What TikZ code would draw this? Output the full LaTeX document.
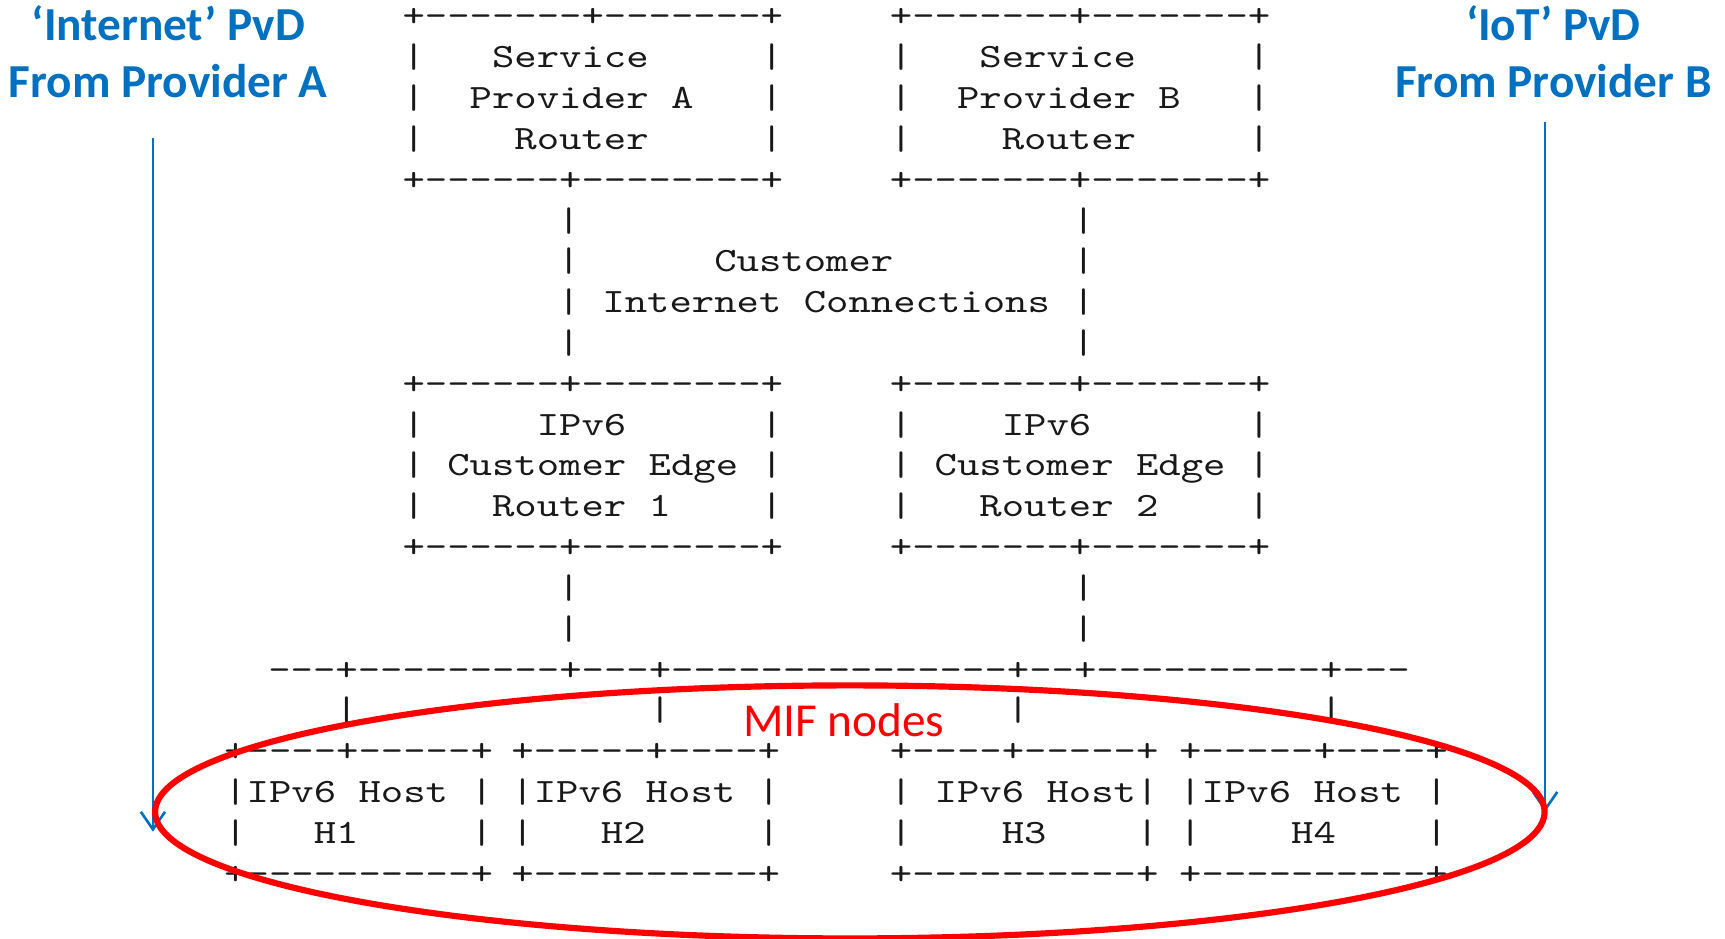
\documentclass[tikz,border=0pt]{standalone}
\usepackage{fontspec}
\newfontfamily\asciifont[FakeStretch=1.25]{lmmono10-regular.otf}
\newfontfamily\calibri{Carlito}
\usetikzlibrary{arrows.meta,shapes.geometric}
\definecolor{pvdblue}{HTML}{0070C0}
\definecolor{mifred}{HTML}{FF0000}
% n blank character cells
\newcommand{\bk}[1]{\hspace*{#1\fontcharwd\font`x}}
% ascii block: name, x, baseline of first row, rows
\newcommand{\asc}[4]{\node[ascii] (#1) at (#2,#3) {\begin{tabular}[t]{@{}l@{}}#4\end{tabular}};}
\tikzset{
  ascii/.style={anchor=base west, inner sep=0pt, text=black!90,
    font=\asciifont\fontsize{15.5pt}{18.55pt}\selectfont},
  pvd/.style={anchor=base, inner sep=0pt, text=pvdblue,
    font=\calibri\bfseries\fontsize{21.5pt}{26pt}\selectfont},
  pvdarrow/.style={draw=pvdblue, line width=1.2pt, -{Straight Barb[length=8pt,width=11pt]}},
  mifring/.style={ellipse, draw=mifred, line width=2.8pt, inner sep=0pt,
    minimum width=631.5pt, minimum height=115pt},
  miflabel/.style={anchor=base, inner sep=0pt, text=mifred,
    font=\calibri\fontsize{21.5pt}{26pt}\selectfont}
}

\begin{document}
\begin{tikzpicture}[x=0.5pt,y=-0.5pt]
  \useasboundingbox (0,0) rectangle (1568,853);
  % provider routers
  \asc{spA}{365.5}{24.5}{+-------+-------+\\|\bk3Service\bk5|\\|\bk2Provider\bk1A\bk3|\\|\bk4Router\bk5|\\+------+--------+}
  \asc{spB}{808.5}{24.5}{+-------+-------+\\|\bk3Service\bk5|\\|\bk2Provider\bk1B\bk3|\\|\bk4Router\bk5|\\+-------+-------+}
  % customer internet connections
  \asc{link}{506.5}{210.0}{|\bk{22}|\\|\bk6Customer\bk8|\\|\bk1Internet\bk1Connections\bk1|\\|\bk{22}|}
  % customer edge routers
  \asc{ceA}{365.5}{358.4}{+------+--------+\\|\bk5IPv6\bk6|\\|\bk1Customer\bk1Edge\bk1|\\|\bk3Router\bk{1}1\bk4|\\+------+--------+}
  \asc{ceB}{808.5}{358.4}{+-------+-------+\\|\bk4IPv6\bk7|\\|\bk1Customer\bk1Edge\bk1|\\|\bk3Router\bk{1}2\bk4|\\+-------+-------+}
  \asc{drop}{506.5}{543.9}{|\bk{22}|\\|\bk{22}|}
  % shared link and host taps
  \asc{bus}{243.5}{618.1}{---+---------+---+---------------+--+----------+---}
  \asc{taps}{243.5}{655.2}{\bk3|\bk{13}|\bk{15}|\bk{13}|}
  % hosts
  \asc{hA}{203.5}{692.3}{+----+-----+\\|IPv6\bk1Host\bk1|\\|\bk3H1\bk5|\\+----------+}
  \asc{hB}{464.5}{692.3}{+-----+----+\\|IPv6\bk1Host\bk1|\\|\bk3H2\bk5|\\+----------+}
  \asc{hC}{808.5}{692.3}{+----+-----+\\|\bk1IPv6\bk1Host|\\|\bk4H3\bk4|\\+----------+}
  \asc{hD}{1071.5}{692.3}{+-----+----+\\|IPv6\bk1Host\bk1|\\|\bk4H4\bk4|\\+----------+}
  % PvD labels and arrows
  \node[pvd] (pvdA) at (153,37) {\begin{tabular}[t]{@{}c@{}}‘Internet’ PvD\\From Provider A\end{tabular}};
  \node[pvd] (pvdB) at (1412,37) {\begin{tabular}[t]{@{}c@{}}‘IoT’ PvD\\From Provider B\end{tabular}};
  \coordinate (pvdAtop) at (139,125);
  \coordinate (pvdAend) at (139,756);
  \coordinate (pvdBtop) at (1404.5,111);
  \coordinate (pvdBend) at (1404.5,738);
  \draw[pvdarrow] (pvdAtop) -- (pvdAend);
  \draw[pvdarrow] (pvdBtop) -- (pvdBend);
  % MIF nodes
  \node[miflabel] (miftext) at (767,669) {MIF nodes};
  \node[mifring] (mif) at (772.5,738) {};
\end{tikzpicture}
\end{document}
